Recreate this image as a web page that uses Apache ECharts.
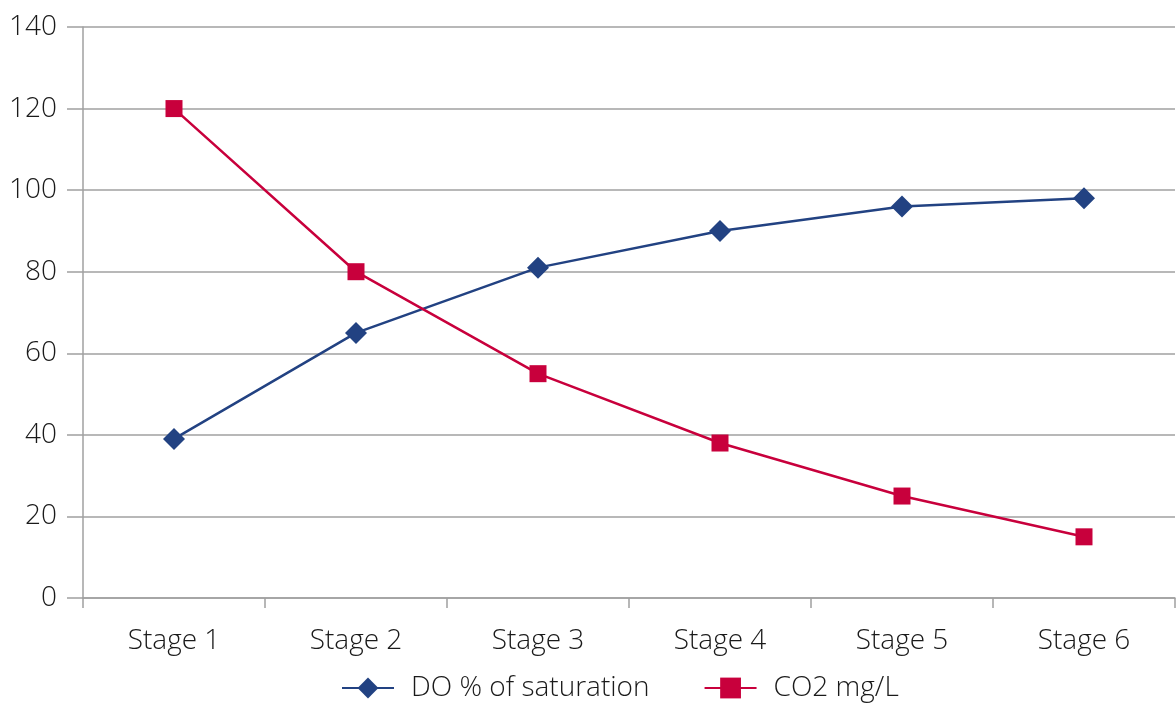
<!DOCTYPE html>
<html><head><meta charset="utf-8">
<script src="https://cdn.jsdelivr.net/npm/echarts@6/dist/echarts.min.js"></script>
<style>html,body{margin:0;padding:0;background:#fff}#c{width:1176px;height:704px}</style>
</head><body><div id="c"></div>
<script>
const categories = ['Stage 1','Stage 2','Stage 3','Stage 4','Stage 5','Stage 6'];
const doValues = [39, 65, 81, 90, 96, 98];
const co2Values = [120, 80, 55, 38, 25, 15];
const yTicks = {min: 0, max: 140, interval: 20};
const seriesNames = ['DO % of saturation', 'CO2 mg/L'];
const FONT = '"Open Sans", "Noto Sans", sans-serif';
const TXT = {fontFamily: FONT, fontSize: 28, fontWeight: 300, color: '#1a1a1a'};
const chart = echarts.init(document.getElementById('c'));
chart.setOption({
  animation: false,
  grid: {left: 83, right: 1, top: 27, bottom: 106},
  legend: {
    bottom: -3, left: 336, itemGap: 54, itemWidth: 52, itemHeight: 26,
    textStyle: Object.assign({padding: [0, 0, 0, 12]}, TXT),
    data: [seriesNames[0], seriesNames[1]]
  },
  xAxis: {
    type: 'category', data: categories, boundaryGap: true,
    axisLine: {lineStyle: {color: '#a0a0a0', width: 1.5}},
    axisTick: {show: true, length: 10, lineStyle: {color: '#a0a0a0', width: 1.5}},
    axisLabel: Object.assign({margin: 29}, TXT)
  },
  yAxis: {
    type: 'value', min: yTicks.min, max: yTicks.max, interval: yTicks.interval,
    axisLine: {show: true, lineStyle: {color: '#a0a0a0', width: 1.5}},
    axisTick: {show: true, inside: false, length: 16, lineStyle: {color: '#a0a0a0', width: 1.5}},
    splitLine: {lineStyle: {color: '#a0a0a0', width: 1.5}},
    axisLabel: Object.assign({margin: 26}, TXT)
  },
  series: [
    {name: seriesNames[0], type: 'line', data: doValues, symbol: 'diamond', symbolSize: 22,
     lineStyle: {color: '#224282', width: 2.5}, itemStyle: {color: '#224282'}},
    {name: seriesNames[1], type: 'line', data: co2Values, symbol: 'rect', symbolSize: 17,
     lineStyle: {color: '#c8003c', width: 2.5}, itemStyle: {color: '#c8003c'}}
  ]
});
</script></body></html>
